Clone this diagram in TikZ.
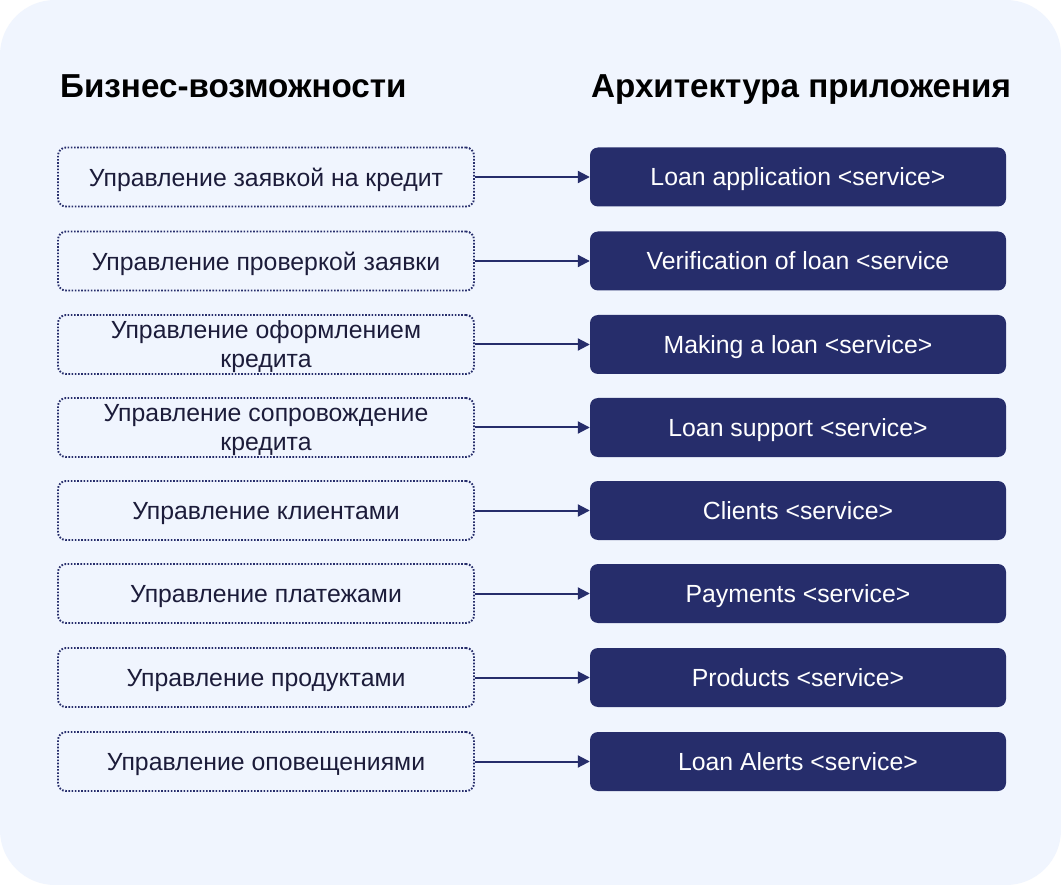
\documentclass[tikz,border=0pt]{standalone}
\usepackage{fontspec}
\setmainfont{Liberation Sans}
\usetikzlibrary{arrows.meta}
\definecolor{pageCol}{HTML}{F0F5FE}
\definecolor{navyCol}{HTML}{262D6B}
\definecolor{capText}{HTML}{1C1C3A}
\tikzset{
  heading/.style={anchor=base west, inner sep=0pt, font=\fontsize{33.2}{39}\selectfont\bfseries, text=black},
  capbox/.style={draw=navyCol, line width=1.9pt, dash pattern=on 1.6pt off 1.6pt, rounded corners=8pt,
                 minimum width=416pt, minimum height=59pt, align=center, text=capText, text depth=0pt,
                 font=\fontsize{24.8}{29}\selectfont},
  svcbox/.style={fill=navyCol, rounded corners=8pt, minimum width=416pt, minimum height=59pt,
                 align=center, text=white, text depth=0pt, font=\fontsize{24.8}{29}\selectfont},
  link/.style={-{Triangle[length=12pt,width=12pt]}, draw=navyCol, line width=2pt},
}
% one row: capability box -> service box
\newcommand{\caprow}[4]{%
  \node[capbox] (cap#1) at (266,#2) {#3};
  \node[svcbox] (svc#1) at (798,#2) {#4};
  \draw[link] (cap#1.east) -- (svc#1.west);}

\begin{document}
\begin{tikzpicture}[x=1pt,y=-1pt]
  \useasboundingbox (0,0) rectangle (1061,885);
  \fill[white] (0,0) rectangle (1061,885);
  \fill[pageCol, rounded corners=55pt] (0,0) rectangle (1061,885);

  \node[heading] (hcap) at (60,98) {Бизнес-возможности};
  \node[heading] (hsvc) at (591,98) {Архитектура приложения};

  \caprow{1}{177}{Управление заявкой на кредит}{Loan application <service>}
  \caprow{2}{261}{Управление проверкой заявки}{Verification of loan <service}
  \caprow{3}{344.5}{Управление оформлением\\кредита}{Making a loan <service>}
  \caprow{4}{427.5}{Управление сопровождение\\кредита}{Loan support <service>}
  \caprow{5}{510.5}{Управление клиентами}{Clients <service>}
  \caprow{6}{593.5}{Управление платежами}{Payments <service>}
  \caprow{7}{677.5}{Управление продуктами}{Products <service>}
  \caprow{8}{761.5}{Управление оповещениями}{Loan Alerts <service>}
\end{tikzpicture}
\end{document}
